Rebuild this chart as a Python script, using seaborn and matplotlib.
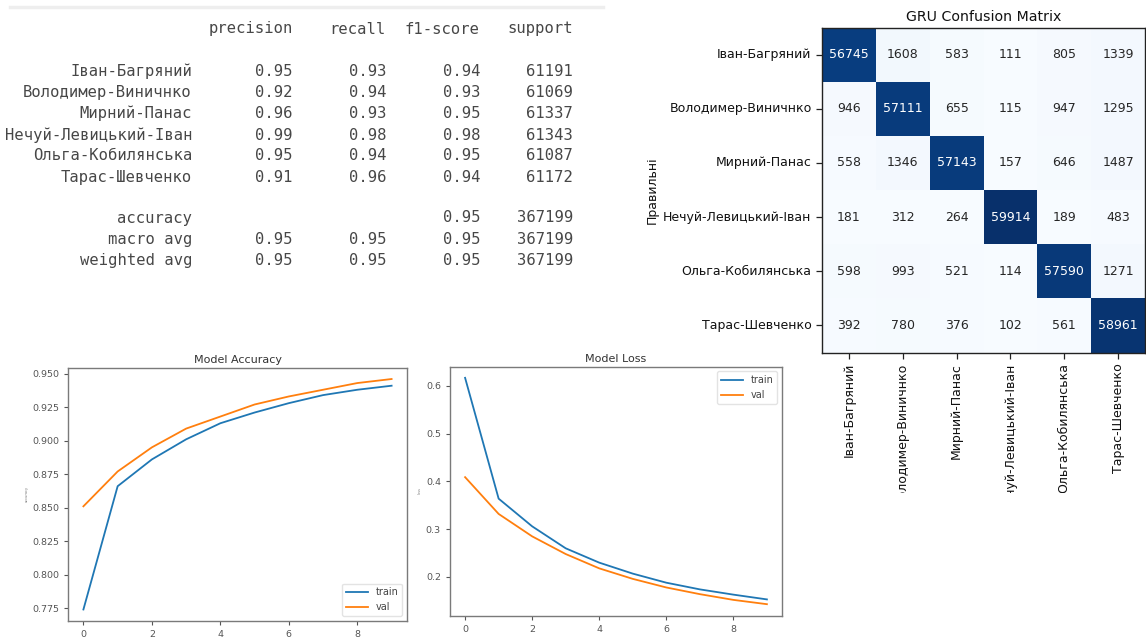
import numpy as np
import pandas as pd
import matplotlib
matplotlib.use("Agg")
import matplotlib.pyplot as plt
from matplotlib.lines import Line2D
from matplotlib.transforms import Bbox, TransformedBbox
import seaborn as sns

# ---------------- data ----------------
classes = ['Іван-Багряний', 'Володимер-Виничнко', 'Мирний-Панас',
           'Нечуй-Левицький-Іван', 'Ольга-Кобилянська', 'Тарас-Шевченко']
precision = [0.95, 0.92, 0.96, 0.99, 0.95, 0.91]
recall = [0.93, 0.94, 0.93, 0.98, 0.94, 0.96]
f1_score = [0.94, 0.93, 0.95, 0.98, 0.95, 0.94]
support = [61191, 61069, 61337, 61343, 61087, 61172]
report_headers = ['precision', 'recall', 'f1-score', 'support']
accuracy_value = 0.95
total_support = 367199
macro_avg = [0.95, 0.95, 0.95]
weighted_avg = [0.95, 0.95, 0.95]

cm_row0 = [56745, 1608, 583, 111, 805, 1339]
cm_row1 = [946, 57111, 655, 115, 947, 1295]
cm_row2 = [558, 1346, 57143, 157, 646, 1487]
cm_row3 = [181, 312, 264, 59914, 189, 483]
cm_row4 = [598, 993, 521, 114, 57590, 1271]
cm_row5 = [392, 780, 376, 102, 561, 58961]

epochs = list(range(10))
train_acc = [0.774, 0.866, 0.886, 0.901, 0.913, 0.921, 0.928, 0.934, 0.938, 0.941]
val_acc = [0.851, 0.877, 0.895, 0.909, 0.918, 0.927, 0.933, 0.938, 0.943, 0.946]
train_loss = [0.617, 0.364, 0.306, 0.260, 0.230, 0.207, 0.188, 0.174, 0.163, 0.153]
val_loss = [0.409, 0.332, 0.285, 0.248, 0.218, 0.196, 0.178, 0.164, 0.152, 0.143]

# ---------------- figure ----------------
W, H = 1146, 638
fig = plt.figure(figsize=(W / 100, H / 100), dpi=100)
fig.patch.set_facecolor('white')


def add_ax(x0, y0, x1, y1):
    return fig.add_axes([x0 / W, 1 - y1 / H, (x1 - x0) / W, (y1 - y0) / H])


def ftxt(x, y, s, **kw):
    fig.text(x / W, 1 - y / H, s, **kw)


# ---------------- classification report (text) ----------------
fig.add_artist(Line2D([10 / W, 603 / W], [1 - 6.5 / H, 1 - 6.5 / H],
                      color='#eeeeee', lw=2.5, transform=fig.transFigure))
mono = dict(family='DejaVu Sans Mono', fontsize=11.2, color='#474747',
            va='center', ha='right')
col_x = [293, 386, 480, 573]
label_x = 192
for cx, h in zip(col_x, report_headers):
    ftxt(cx, 29, h, **mono)
row_y = [71.5, 92.5, 113.5, 135, 156, 177]
for i, name in enumerate(classes):
    y = row_y[i]
    ftxt(label_x, y, name, **mono)
    ftxt(col_x[0], y, f'{precision[i]:.2f}', **mono)
    ftxt(col_x[1], y, f'{recall[i]:.2f}', **mono)
    ftxt(col_x[2], y, f'{f1_score[i]:.2f}', **mono)
    ftxt(col_x[3], y, f'{support[i]}', **mono)
ftxt(label_x, 218, 'accuracy', **mono)
ftxt(col_x[2], 218, f'{accuracy_value:.2f}', **mono)
ftxt(col_x[3], 218, f'{total_support}', **mono)
for y, name, vals in [(239.5, 'macro avg', macro_avg), (260.5, 'weighted avg', weighted_avg)]:
    ftxt(label_x, y, name, **mono)
    for cx, v in zip(col_x[:3], vals):
        ftxt(cx, y, f'{v:.2f}', **mono)
    ftxt(col_x[3], y, f'{total_support}', **mono)

# ---------------- confusion matrix ----------------
cm = np.array([cm_row0, cm_row1, cm_row2, cm_row3, cm_row4, cm_row5])
ax_cm = add_ax(822, 27.5, 1145, 352.5)
sns.heatmap(cm, annot=True, fmt='d', cmap='Blues', cbar=False, ax=ax_cm,
            xticklabels=classes, yticklabels=classes, square=False,
            annot_kws={'size': 9})
for s in ax_cm.spines.values():
    s.set_visible(True)
    s.set_color('#222222')
    s.set_linewidth(1.0)
ax_cm.tick_params(axis='both', which='both', length=4, width=0.9,
                  color='#222222', labelsize=9, labelcolor='#111111')
ax_cm.set_xticklabels(classes, rotation=90)
ax_cm.set_yticklabels(classes, rotation=0)
ax_cm.set_title('GRU Confusion Matrix', fontsize=10.2, color='#111111', pad=5)
ax_cm.set_ylabel('Правильні', fontsize=9, color='#111111', labelpad=3)
clip = TransformedBbox(Bbox.from_extents(0, 1 - 493 / H, 1, 1), fig.transFigure)
for lab in ax_cm.get_xticklabels():
    lab.set_clip_on(True)
    lab.set_clip_box(clip)

# ---------------- training curves ----------------
def style_curve_ax(ax, title):
    for s in ax.spines.values():
        s.set_color('#7a7a7a')
        s.set_linewidth(1.0)
    ax.tick_params(axis='both', labelsize=6.8, colors='#555555', length=3, width=0.8)
    ax.set_title(title, fontsize=8, color='#333333', pad=3)
    ax.set_xlabel('')


ax_acc = add_ax(68, 367.5, 407, 621)
sns.lineplot(x=epochs, y=train_acc, ax=ax_acc, label='train', lw=1.3)
sns.lineplot(x=epochs, y=val_acc, ax=ax_acc, label='val', lw=1.3)
style_curve_ax(ax_acc, 'Model Accuracy')
ax_acc.set_xticks([0, 2, 4, 6, 8])
ax_acc.set_yticks([0.775, 0.800, 0.825, 0.850, 0.875, 0.900, 0.925, 0.950])
ax_acc.set_yticklabels([f'{t:.3f}' for t in ax_acc.get_yticks()])
ax_acc.set_ylabel('accuracy', fontsize=2.5, color='#777777', labelpad=2)
ax_acc.legend(loc='lower right', fontsize=7, labelcolor='#444444',
              edgecolor='#dddddd', handlelength=2.2)

ax_loss = add_ax(450, 366.5, 782, 615.5)
sns.lineplot(x=epochs, y=train_loss, ax=ax_loss, label='train', lw=1.3)
sns.lineplot(x=epochs, y=val_loss, ax=ax_loss, label='val', lw=1.3)
style_curve_ax(ax_loss, 'Model Loss')
ax_loss.set_xticks([0, 2, 4, 6, 8])
ax_loss.set_yticks([0.2, 0.3, 0.4, 0.5, 0.6])
ax_loss.set_ylabel('loss', fontsize=2.5, color='#777777', labelpad=3)
ax_loss.legend(loc='upper right', fontsize=7, labelcolor='#444444',
               edgecolor='#dddddd', handlelength=2.2)

fig.savefig('out.png', dpi=100, facecolor='white')
